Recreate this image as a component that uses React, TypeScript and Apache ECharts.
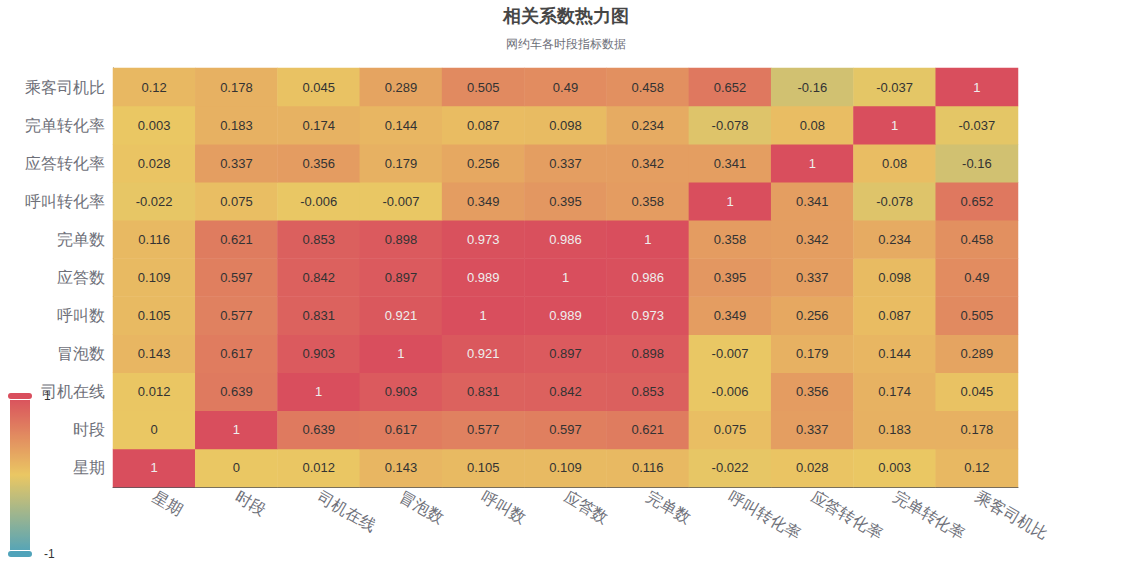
import React, { useEffect, useRef } from "react";
import * as echarts from "echarts";

const categories = ["星期", "时段", "司机在线", "冒泡数", "呼叫数", "应答数", "完单数", "呼叫转化率", "应答转化率", "完单转化率", "乘客司机比"];

// matrix rows follow categories order (row i = y category i), columns = x categories
const matrix: number[][] = [
  [1, 0, 0.012, 0.143, 0.105, 0.109, 0.116, -0.022, 0.028, 0.003, 0.12],
  [0, 1, 0.639, 0.617, 0.577, 0.597, 0.621, 0.075, 0.337, 0.183, 0.178],
  [0.012, 0.639, 1, 0.903, 0.831, 0.842, 0.853, -0.006, 0.356, 0.174, 0.045],
  [0.143, 0.617, 0.903, 1, 0.921, 0.897, 0.898, -0.007, 0.179, 0.144, 0.289],
  [0.105, 0.577, 0.831, 0.921, 1, 0.989, 0.973, 0.349, 0.256, 0.087, 0.505],
  [0.109, 0.597, 0.842, 0.897, 0.989, 1, 0.986, 0.395, 0.337, 0.098, 0.49],
  [0.116, 0.621, 0.853, 0.898, 0.973, 0.986, 1, 0.358, 0.342, 0.234, 0.458],
  [-0.022, 0.075, -0.006, -0.007, 0.349, 0.395, 0.358, 1, 0.341, -0.078, 0.652],
  [0.028, 0.337, 0.356, 0.179, 0.256, 0.337, 0.342, 0.341, 1, 0.08, -0.16],
  [0.003, 0.183, 0.174, 0.144, 0.087, 0.098, 0.234, -0.078, 0.08, 1, -0.037],
  [0.12, 0.178, 0.045, 0.289, 0.505, 0.49, 0.458, 0.652, -0.16, -0.037, 1],
];

const colorRange = ["#50a3ba", "#eac763", "#d94e5d"];

export default function App() {
  const ref = useRef<HTMLDivElement>(null);
  useEffect(() => {
    if (!ref.current) return;
    const chart = echarts.init(ref.current, null, { renderer: "svg" });
    const data: [number, number, number][] = [];
    matrix.forEach((row, y) => row.forEach((v, x) => data.push([x, y, v])));
    chart.setOption({
      animation: false,
      title: {
        text: "相关系数热力图",
        subtext: "网约车各时段指标数据",
        left: "center",
        top: 2,
        itemGap: 13,
        textStyle: { fontSize: 18, fontWeight: "bold", color: "#464646" },
        subtextStyle: { fontSize: 12, color: "#6e7079" },
      },
      grid: { left: 113, right: 114, top: 68, bottom: 79 },
      xAxis: {
        type: "category",
        data: categories,
        axisLabel: { rotate: -30, fontSize: 16, color: "#6e7079" },
      },
      yAxis: {
        type: "category",
        data: categories,
        axisLabel: { fontSize: 16, color: "#6e7079" },
      },
      visualMap: {
        type: "continuous",
        min: -1,
        max: 1,
        calculable: true,
        orient: "vertical",
        left: -8,
        bottom: -9,
        itemWidth: 20,
        itemHeight: 158,
        inRange: { color: colorRange },
        textStyle: { color: "#333" },
      },
      series: [
        {
          type: "heatmap",
          data,
          label: { show: true, fontSize: 13 },
        },
      ],
    });
    return () => chart.dispose();
  }, []);
  return (
    <div
      ref={ref}
      style={{ position: "absolute", left: 0, top: 0, width: 1132, height: 566 }}
    />
  );
}
